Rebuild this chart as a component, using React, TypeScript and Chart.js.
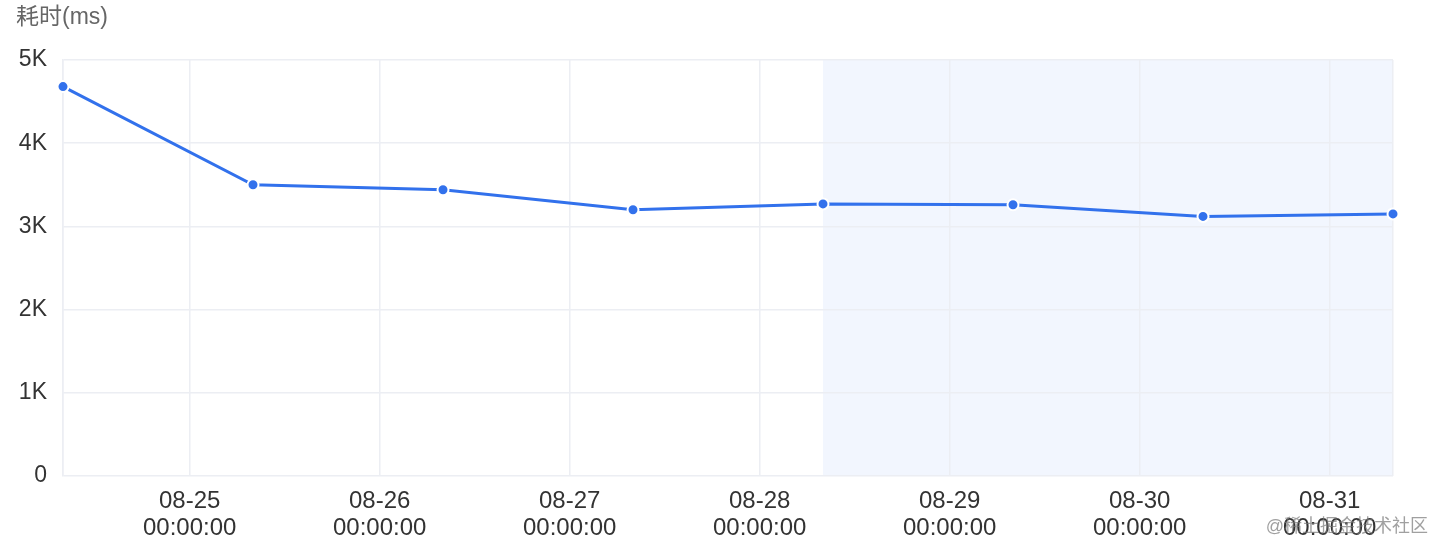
import React, { useEffect, useRef } from 'react';
import { Chart, registerables } from 'chart.js';

Chart.register(...registerables);

// ---- data ----
const pointTimes = ['08-24 08:00', '08-25 08:00', '08-26 08:00', '08-27 08:00', '08-28 08:00', '08-29 08:00', '08-30 08:00', '08-31 08:00'];
const durations = [4680, 3500, 3440, 3200, 3270, 3260, 3120, 3150];
const tickDays = ['08-25', '08-26', '08-27', '08-28', '08-29', '08-30', '08-31'];
const tickTime = '00:00:00';
const yTicks = [0, 1000, 2000, 3000, 4000, 5000];
const shadeFrom = '08-28 08:00';
const yTitle = '耗时(ms)';
const watermark = '@稀土掘金技术社区';

const FONT = "'Liberation Sans', Arial, 'Noto Sans CJK SC', sans-serif";

// hours since first point
const toHours = (s: string) => {
  const [md, hm] = s.split(' ');
  const day = parseInt(md.split('-')[1], 10);
  const [h, m] = hm.split(':').map(Number);
  return day * 24 + h + m / 60;
};
const base = toHours(pointTimes[0]);
const xs = pointTimes.map((t) => toHours(t) - base);
const tickXs = tickDays.map((d) => toHours(d + ' ' + tickTime.slice(0, 5)) - base);
const xMin = xs[0];
const xMax = xs[xs.length - 1];

export default function App() {
  const ref = useRef<HTMLCanvasElement>(null);
  useEffect(() => {
    document.body.style.margin = '0';
    const ctx = ref.current!;
    const bgPlugin = {
      id: 'bg',
      beforeDraw(chart: any) {
        const { ctx, chartArea, scales } = chart;
        const x0 = scales.x.getPixelForValue(toHours(shadeFrom) - base);
        const x1 = chartArea.right;
        ctx.save();
        ctx.fillStyle = '#f2f6fe';
        ctx.fillRect(x0, chartArea.top, x1 - x0, chartArea.bottom - chartArea.top);
        ctx.restore();
      },
      afterDraw(chart: any) {
        const { ctx } = chart;
        ctx.save();
        ctx.font = `23px ${FONT}`;
        ctx.fillStyle = '#666';
        ctx.textBaseline = 'middle';
        ctx.textAlign = 'left';
        ctx.fillText(yTitle, 16, 18);
        ctx.font = `18px ${FONT}`;
        ctx.fillStyle = 'rgba(120,120,120,0.7)';
        ctx.textAlign = 'right';
        ctx.fillText(watermark, 1428, 527);
        ctx.restore();
      },
    };
    const chart = new Chart(ctx, {
      type: 'line',
      data: {
        datasets: [
          {
            data: xs.map((x, i) => ({ x, y: durations[i] })),
            borderColor: '#3271ec',
            backgroundColor: '#3271ec',
            borderWidth: 3,
            pointRadius: 5.5,
            pointBorderColor: '#ffffff',
            pointBorderWidth: 2,
            pointBackgroundColor: '#3271ec',
            tension: 0,
            clip: false,
          },
        ],
      },
      options: {
        animation: false,
        responsive: false,
        layout: { padding: { top: 60, right: 53, left: 0, bottom: 0 } },
        plugins: { legend: { display: false }, tooltip: { enabled: false } },
        scales: {
          x: {
            type: 'linear',
            min: xMin,
            max: xMax,
            afterBuildTicks: (scale: any) => {
              scale.ticks = [xMin, ...tickXs, xMax].map((v) => ({ value: v }));
            },
            afterFit: (scale: any) => {
              scale.height = 78;
            },
            grid: { color: '#eceef3', drawTicks: false, lineWidth: 1.5 },
            border: { display: false },
            ticks: {
              autoSkip: false,
              maxRotation: 0,
              padding: 12,
              color: '#333',
              font: { family: FONT, size: 24, lineHeight: 1.12 },
              callback: (v: any) => {
                const i = tickXs.indexOf(Number(v));
                return i >= 0 ? [tickDays[i], tickTime] : '';
              },
            },
          },
          y: {
            min: yTicks[0],
            max: yTicks[yTicks.length - 1],
            afterBuildTicks: (scale: any) => {
              scale.ticks = yTicks.map((v) => ({ value: v }));
            },
            afterFit: (scale: any) => {
              scale.width = 63;
            },
            grid: { color: '#eceef3', drawTicks: false, lineWidth: 1.5 },
            border: { display: true, color: '#eceef3', width: 1.5 },
            ticks: {
              padding: 16,
              color: '#333',
              font: { family: FONT, size: 23 },
              callback: (v: any) => (Number(v) === 0 ? '0' : Number(v) / 1000 + 'K'),
            },
          },
        },
      },
      plugins: [bgPlugin],
    });
    return () => chart.destroy();
  }, []);
  return (
    <div style={{ position: 'absolute', left: 0, top: 0, width: 1446, height: 554 }}>
      <canvas ref={ref} width={1446} height={554} style={{ width: 1446, height: 554 }} />
    </div>
  );
}
